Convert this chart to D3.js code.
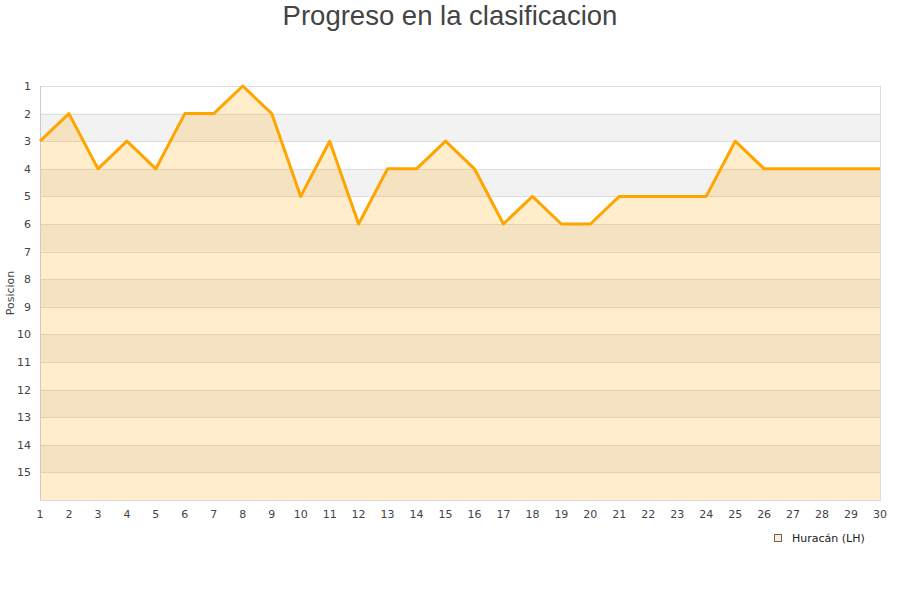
<!DOCTYPE html>
<html><head><meta charset="utf-8">
<script src="https://cdn.jsdelivr.net/npm/d3@7"></script>
<style>body{margin:0;background:#fff;}svg{display:block;}</style>
</head><body>
<svg id="c" width="900" height="600"></svg>
<script>
const title = "Progreso en la clasificacion";
const yLabel = "Posicion";
const seriesName = "Huracán (LH)";
const rounds = d3.range(1, 31);
const positions = [3,2,4,3,4,2,2,1,2,5,3,6,4,4,3,4,6,5,6,6,5,5,5,5,3,4,4,4,4,4];
const yTicks = d3.range(1, 16);

const svg = d3.select("#c");
const m = {l:40, r:880, t:86, b:500};
const x = d3.scaleLinear().domain([1,30]).range([m.l, m.r]);
const y = d3.scaleLinear().domain([1,16]).range([m.t, m.b]);

// stripes
const bands = d3.range(1, 16);
svg.append("g").selectAll("rect").data(bands).join("rect")
  .attr("x", m.l).attr("width", m.r - m.l)
  .attr("y", d => y(d)).attr("height", d => y(d+1) - y(d))
  .attr("fill", d => d % 2 === 0 ? "#f2f2f2" : "#ffffff");

// grid lines
svg.append("g").selectAll("line").data(yTicks.concat([16])).join("line")
  .attr("x1", m.l).attr("x2", m.r)
  .attr("y1", d => Math.round(y(d)) + 0.5).attr("y2", d => Math.round(y(d)) + 0.5)
  .attr("stroke", "#dddddd").attr("stroke-width", 1);

// area
const data = rounds.map((r, i) => ({r, p: positions[i]}));
svg.append("path").datum(data)
  .attr("d", d3.area().x(d => x(d.r)).y0(y(16)).y1(d => y(d.p)))
  .attr("fill", "#ffa500").attr("fill-opacity", 0.2);

// border
svg.append("rect").attr("x", m.l + 0.5).attr("y", m.t + 0.5)
  .attr("width", m.r - m.l).attr("height", m.b - m.t)
  .attr("fill", "none").attr("stroke", "#dddddd");
svg.append("line").attr("x1", m.l + 0.5).attr("x2", m.l + 0.5)
  .attr("y1", m.t).attr("y2", m.b).attr("stroke", "#cccccc");

// line
svg.append("path").datum(data)
  .attr("d", d3.line().x(d => x(d.r)).y(d => y(d.p)))
  .attr("fill", "none").attr("stroke", "#ffa500").attr("stroke-width", 3)
  .attr("stroke-linejoin", "round");

// y axis labels
svg.append("g").selectAll("text").data(yTicks).join("text")
  .attr("x", 31).attr("y", d => y(d) + 4)
  .attr("text-anchor", "end")
  .attr("font-family", "DejaVu Sans, sans-serif").attr("font-size", 11)
  .attr("fill", "#444").text(d => d);

// x axis labels
svg.append("g").selectAll("text").data(rounds).join("text")
  .attr("x", d => x(d)).attr("y", 518)
  .attr("text-anchor", "middle")
  .attr("font-family", "DejaVu Sans, sans-serif").attr("font-size", 11)
  .attr("fill", "#444").text(d => d);

// y title
svg.append("text").attr("transform", "translate(14,293) rotate(-90)")
  .attr("text-anchor", "middle")
  .attr("font-family", "DejaVu Sans, sans-serif").attr("font-size", 11)
  .attr("fill", "#444").text(yLabel);

// title
svg.append("text").attr("x", 450).attr("y", 25)
  .attr("text-anchor", "middle")
  .attr("font-family", "Liberation Sans, Arial, sans-serif").attr("font-size", 27.5)
  .attr("fill", "#444").text(title);

// legend
svg.append("rect").attr("x", 774.5).attr("y", 534.5).attr("width", 7).attr("height", 7)
  .attr("fill", "#ffedcc").attr("stroke", "#666");
svg.append("text").attr("x", 792).attr("y", 542)
  .attr("font-family", "DejaVu Sans, sans-serif").attr("font-size", 11)
  .attr("fill", "#222").text(seriesName);
</script>
</body></html>
